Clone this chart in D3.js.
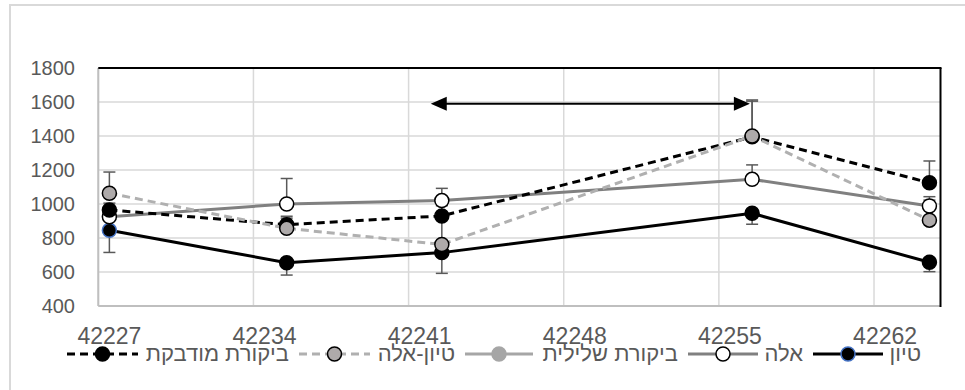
<!DOCTYPE html>
<html>
<head>
<meta charset="utf-8">
<script src="https://cdn.jsdelivr.net/npm/d3@7"></script>
<style>
  body { margin: 0; background: #fff; }
  text { font-family: "Liberation Sans", Arial, sans-serif; fill: #595959; }
</style>
</head>
<body>
<div class="viz"></div>
<script>
// data
const dates = [42227, 42235, 42242, 42256, 42264]
const xTicks = [42227, 42234, 42241, 42248, 42255, 42262]
const yTicks = [400, 600, 800, 1000, 1200, 1400, 1600, 1800]

const tyon = [845, 655, 714, 945, 657]
const ela = [925, 1000, 1020, 1145, 988]
const negControl = []
const tyonEla = [1063, 857, 762, 1400, 905]
const infected = [965, 878, 930, 1395, 1125]

// error sizes (dir: 1 = plus, -1 = minus)
const tyonErr = [130, 73, 122, 64, 55]
const elaErr = [60, 150, 72, 85, 55]
const tyonElaErr = [125, 60, 170, 212, 118]
const infectedErr = [40, 50, 60, 210, 128]

const arrowDates = [42242, 42256.4]
const arrowValue = 1590

const width = 965, height = 390
const margin = {top: 68, right: 24.5, bottom: 84, left: 98.3}

const series = [
  {name: 'טיון', values: tyon, err: tyonErr, dir: -1, stroke: '#000', dash: null, fill: '#000', mstroke: '#4472c4', firstOnly: true},
  {name: 'אלה', values: ela, err: elaErr, dir: 1, stroke: '#808080', dash: null, fill: '#fff', mstroke: '#000'},
  {name: 'ביקורת שלילית', values: negControl, err: [], dir: 1, stroke: '#a6a6a6', dash: null, fill: '#a6a6a6', mstroke: '#a6a6a6'},
  {name: 'טיון-אלה', values: tyonEla, err: tyonElaErr, dir: 1, stroke: '#b0b0b0', dash: '8,5', fill: '#aeaaaa', mstroke: '#000'},
  {name: 'ביקורת מודבקת', values: infected, err: infectedErr, dir: 1, stroke: '#000', dash: '8,5', fill: '#000', mstroke: '#000'}
]
// draw order: the light dashed series ends up on top
const drawOrder = [0, 1, 2, 4, 3]

const svg = d3.select('.viz').append('svg')
  .attr('width', width)
  .attr('height', height)

// outer chart frame (runs off the right/bottom edge)
svg.append('rect')
  .attr('x', 10).attr('y', 5)
  .attr('width', 1000).attr('height', 400)
  .attr('fill', 'none')
  .attr('stroke', '#d9d9d9')
  .attr('stroke-width', 2)

const x = d3.scaleLinear()
  .domain([42227, 42265])
  .range([margin.left, width - margin.right])

const y = d3.scaleLinear()
  .domain([400, 1800])
  .range([height - margin.bottom, margin.top])

// grid
svg.append('g')
  .selectAll('line')
  .data(yTicks)
  .join('line')
  .attr('x1', x.range()[0]).attr('x2', x.range()[1])
  .attr('y1', d => y(d)).attr('y2', d => y(d))
  .attr('stroke', '#d9d9d9')
  .attr('stroke-width', 1.5)

svg.append('g')
  .selectAll('line')
  .data(xTicks)
  .join('line')
  .attr('x1', d => x(d)).attr('x2', d => x(d))
  .attr('y1', y.range()[0]).attr('y2', y.range()[1])
  .attr('stroke', '#d9d9d9')
  .attr('stroke-width', 1.5)

// plot borders
svg.append('line')
  .attr('x1', x.range()[0]).attr('x2', x.range()[0])
  .attr('y1', y.range()[0]).attr('y2', y.range()[1])
  .attr('stroke', '#bfbfbf').attr('stroke-width', 2)
svg.append('line')
  .attr('x1', x.range()[0]).attr('x2', x.range()[1])
  .attr('y1', y.range()[0]).attr('y2', y.range()[0])
  .attr('stroke', '#bfbfbf').attr('stroke-width', 2)
svg.append('line')
  .attr('x1', x.range()[0]).attr('x2', x.range()[1] + 1)
  .attr('y1', y.range()[1]).attr('y2', y.range()[1])
  .attr('stroke', '#000').attr('stroke-width', 2)
svg.append('line')
  .attr('x1', x.range()[1]).attr('x2', x.range()[1])
  .attr('y1', y.range()[1]).attr('y2', y.range()[0] + 1)
  .attr('stroke', '#000').attr('stroke-width', 2)

// y labels
svg.append('g')
  .selectAll('text')
  .data(yTicks)
  .join('text')
  .attr('x', 75)
  .attr('y', d => y(d))
  .attr('dy', '0.36em')
  .attr('text-anchor', 'end')
  .style('font-size', '20px')
  .text(d => d)

// x labels (centred on the middle of the day)
svg.append('g')
  .selectAll('text')
  .data(xTicks)
  .join('text')
  .attr('x', d => x(d + 0.5))
  .attr('y', 344)
  .attr('text-anchor', 'middle')
  .style('font-size', '23px')
  .text(d => d)

// error bars
const errG = svg.append('g')
  .attr('stroke', '#595959')
  .attr('stroke-width', 1.5)

series.forEach(s => {
  s.values.forEach((v, i) => {
    const e = s.err[i]
    if (!e) return
    const cx = x(dates[i] + 0.5)
    const end = y(v + s.dir * e)
    errG.append('line')
      .attr('x1', cx).attr('x2', cx)
      .attr('y1', y(v)).attr('y2', end)
    errG.append('line')
      .attr('x1', cx - 6).attr('x2', cx + 6)
      .attr('y1', end).attr('y2', end)
  })
})

// arrow
const ax0 = x(arrowDates[0]), ax1 = x(arrowDates[1]), ay = y(arrowValue)
svg.append('line')
  .attr('x1', ax0 + 14).attr('x2', ax1 - 14)
  .attr('y1', ay).attr('y2', ay)
  .attr('stroke', '#000').attr('stroke-width', 2)
svg.append('path')
  .attr('d', `M${ax0},${ay}L${ax0 + 16},${ay - 7}L${ax0 + 16},${ay + 7}Z`)
  .attr('fill', '#000')
svg.append('path')
  .attr('d', `M${ax1},${ay}L${ax1 - 16},${ay - 7}L${ax1 - 16},${ay + 7}Z`)
  .attr('fill', '#000')

// lines and markers
const line = d3.line()
  .x((d, i) => x(dates[i] + 0.5))
  .y(d => y(d))

drawOrder.forEach(k => {
  const s = series[k]
  if (!s.values.length) return
  svg.append('path')
    .datum(s.values)
    .attr('d', line)
    .attr('fill', 'none')
    .attr('stroke', s.stroke)
    .attr('stroke-width', 3)
    .attr('stroke-dasharray', s.dash)
})

drawOrder.forEach(k => {
  const s = series[k]
  svg.append('g')
    .selectAll('circle')
    .data(s.values)
    .join('circle')
    .attr('cx', (d, i) => x(dates[i] + 0.5))
    .attr('cy', d => y(d))
    .attr('r', 7)
    .attr('fill', s.fill)
    .attr('stroke', (d, i) => s.firstOnly ? (i === 0 ? s.mstroke : '#000') : s.mstroke)
    .attr('stroke-width', 1.5)
})

// legend (right to left)
const legendItems = [
  {s: series[0], lineX: [813, 883], textX: 921},
  {s: series[1], lineX: [688, 758], textX: 803},
  {s: series[2], lineX: [465, 533], textX: 678},
  {s: series[3], lineX: [299, 370], textX: 455},
  {s: series[4], lineX: [67, 138], textX: 289}
]
const ly = 354
const lg = svg.append('g')
legendItems.forEach(item => {
  const s = item.s
  lg.append('line')
    .attr('x1', item.lineX[0]).attr('x2', item.lineX[1])
    .attr('y1', ly).attr('y2', ly)
    .attr('stroke', s.stroke)
    .attr('stroke-width', 3)
    .attr('stroke-dasharray', s.dash)
  lg.append('circle')
    .attr('cx', (item.lineX[0] + item.lineX[1]) / 2)
    .attr('cy', ly)
    .attr('r', 7)
    .attr('fill', s.fill)
    .attr('stroke', s.mstroke)
    .attr('stroke-width', 1.5)
  lg.append('text')
    .attr('x', item.textX)
    .attr('y', 361)
    .attr('text-anchor', 'end')
    .style('font-size', '22px')
    .text(s.name)
})
</script>
</body>
</html>
